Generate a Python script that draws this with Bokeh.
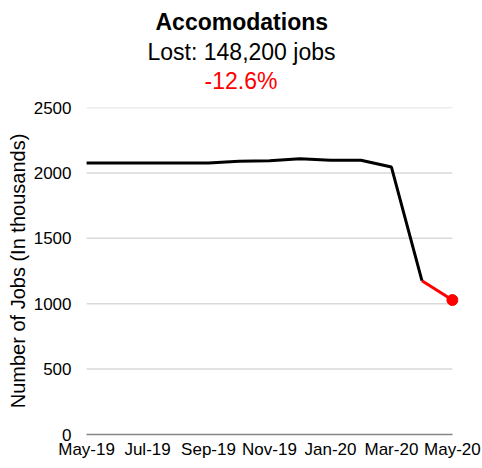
from bokeh.plotting import figure
from bokeh.models import Title, Range1d, FixedTicker, ColumnDataSource
from bokeh.embed import file_html
from bokeh.resources import INLINE

months = ["May-19", "Jun-19", "Jul-19", "Aug-19", "Sep-19", "Oct-19", "Nov-19",
          "Dec-19", "Jan-20", "Feb-20", "Mar-20", "Apr-20", "May-20"]
jobs = [2076, 2076, 2076, 2076, 2076, 2090, 2092, 2108, 2097, 2097, 2045, 1176, 1028]
y_ticks = [0, 500, 1000, 1500, 2000, 2500]
x_tick_idx = [0, 2, 4, 6, 8, 10, 12]

title = "Accomodations"
subtitle = "Lost: 148,200 jobs"
change = "-12.6%"

FONT = "Liberation Sans"
PAD = 0.2  # x padding so the end marker is not clipped

xs = list(range(len(months)))

p = figure(width=482, height=468, output_backend="svg", toolbar_location=None,
           x_range=Range1d(xs[0] - PAD, xs[-1] + PAD), y_range=Range1d(0, 2500),
           min_border_left=80, min_border_right=24, min_border_top=107, min_border_bottom=34)
p.outline_line_color = None
p.background_fill_color = "white"
p.border_fill_color = "white"

# grid drawn only over the data span
p.xgrid.grid_line_color = None
p.ygrid.grid_line_color = None
p.segment(x0=[xs[0]] * (len(y_ticks) - 1), x1=[xs[-1]] * (len(y_ticks) - 1),
          y0=y_ticks[1:], y1=y_ticks[1:], line_color="#d9d9d9", line_width=1.5)

# axes
for ax in (p.xaxis, p.yaxis):
    ax.major_tick_out = 0
    ax.major_tick_in = 0
    ax.minor_tick_out = 0
    ax.minor_tick_in = 0
    ax.major_tick_line_color = None
    ax.minor_tick_line_color = None
    ax.major_label_text_font = FONT
    ax.major_label_text_font_size = "17px"
    ax.major_label_text_color = "black"

p.yaxis.ticker = FixedTicker(ticks=y_ticks)
p.yaxis.axis_line_color = None
p.yaxis.major_label_standoff = 9
p.yaxis.axis_label = "Number of Jobs (In thousands)"
p.yaxis.axis_label_text_font = FONT
p.yaxis.axis_label_text_font_style = "normal"
p.yaxis.axis_label_text_font_size = "20px"
p.yaxis.axis_label_text_color = "black"
p.yaxis.axis_label_standoff = 2

p.xaxis.ticker = FixedTicker(ticks=x_tick_idx)
p.xaxis.major_label_overrides = {i: months[i] for i in x_tick_idx}
p.xaxis.bounds = (xs[0], xs[-1])
p.xaxis.axis_line_color = "#868686"
p.xaxis.axis_line_width = 1.5
p.xaxis.major_label_standoff = 5

# data
src_main = ColumnDataSource(dict(x=xs[:-1], y=jobs[:-1]))
src_last = ColumnDataSource(dict(x=xs[-2:], y=jobs[-2:]))
p.line("x", "y", source=src_last, line_color="#ff0000", line_width=3)
p.line("x", "y", source=src_main, line_color="black", line_width=3)
p.scatter(x=[xs[-1]], y=[jobs[-1]], size=11, fill_color="#ff0000", line_color="#ff0000")

# titles: first added sits next to the plot, last added is on top
p.add_layout(Title(text=" ", text_font=FONT, text_font_size="11px", standoff=0), "above")
for txt, style, color, off, stand in [(change, "normal", "#ff0000", 124, 0),
                                      (subtitle, "normal", "black", 67, 2),
                                      (title, "bold", "black", 75, 2)]:
    p.add_layout(Title(text=txt, align="left", offset=off, standoff=stand,
                       text_font=FONT, text_font_size="23px", text_font_style=style,
                       text_color=color), "above")

open("out.html", "w").write(file_html(p, INLINE))
